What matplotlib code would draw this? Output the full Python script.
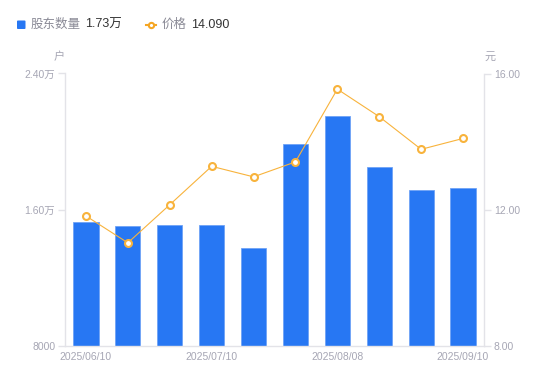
import matplotlib
matplotlib.use("Agg")
import matplotlib.pyplot as plt
from matplotlib.patches import FancyBboxPatch
from matplotlib.lines import Line2D
import numpy as np

plt.rcParams['font.family'] = ['Liberation Sans', 'Noto Sans CJK SC', 'DejaVu Sans']

dates = ["2025/06/10", "2025/06/20", "2025/06/30", "2025/07/10", "2025/07/20",
         "2025/07/31", "2025/08/08", "2025/08/20", "2025/08/31", "2025/09/10"]
shareholders = [15280, 15030, 15090, 15090, 13735, 19850, 21500, 18480, 17150, 17280]
price = [11.81, 11.02, 12.14, 13.27, 12.96, 13.40, 15.54, 14.73, 13.77, 14.09]
left_ticks = [8000, 16000, 24000]
left_tick_labels = ["8000", "1.60万", "2.40万"]
right_ticks = [8.0, 12.0, 16.0]
right_tick_labels = ["8.00", "12.00", "16.00"]
shown_labels = [0, 3, 6, 9]

W, H = 550, 381
fig = plt.figure(figsize=(W / 100, H / 100), dpi=100)
ax = fig.add_axes([65 / W, (H - 345.5) / H, (484 - 65) / W, 272 / H])

bar_color = "#2777F3"
line_color = "#F8B33C"
axis_color = "#E3E3E8"
tick_text = "#A6A6B4"

x = np.arange(len(dates))
ax.bar(x, shareholders, width=0.6, color=bar_color, edgecolor="#6FA3F6", linewidth=0.6, zorder=2)
ax.set_xlim(-0.5, len(dates) - 0.5)
ax.set_ylim(8000, 24000)
ax.set_yticks(left_ticks)
ax.set_yticklabels(left_tick_labels)
ax.set_xticks([x[i] for i in shown_labels])
ax.set_xticklabels([dates[i] for i in shown_labels])

ax2 = ax.twinx()
ax2.plot(x, price, color=line_color, linewidth=0.8, marker="o", markersize=5,
         markerfacecolor="white", markeredgecolor=line_color, markeredgewidth=1.5, zorder=3)
ax2.set_ylim(8, 16)
ax2.set_yticks(right_ticks)
ax2.set_yticklabels(right_tick_labels)

for a in (ax, ax2):
    for s in a.spines.values():
        s.set_visible(False)
    a.set_facecolor("none")

ax.spines['left'].set_visible(True)
ax.spines['left'].set_color(axis_color)
ax.spines['bottom'].set_visible(True)
ax.spines['bottom'].set_color(axis_color)
ax2.spines['right'].set_visible(True)
ax2.spines['right'].set_color(axis_color)
for s in ('left', 'bottom'):
    ax.spines[s].set_linewidth(1.0)
ax2.spines['right'].set_linewidth(1.0)

ax.tick_params(axis='y', colors=axis_color, labelcolor=tick_text, labelsize=7.5, length=5, width=1, pad=2)
ax.tick_params(axis='x', length=0, labelcolor=tick_text, labelsize=7.5, pad=5)
ax2.tick_params(axis='y', colors=axis_color, labelcolor=tick_text, labelsize=7.5, length=5, width=1, pad=2)

fig.text(59 / W, 1 - 57 / H, "户", color=tick_text, fontsize=8, ha='center', va='center')
fig.text(490 / W, 1 - 57 / H, "元", color=tick_text, fontsize=8, ha='center', va='center')

# legend
ly = 1 - 24.8 / H
sq = FancyBboxPatch((17 / W, 1 - 29 / H), 8.5 / W, 8.5 / H, boxstyle="round,pad=0,rounding_size=0.002",
                    transform=fig.transFigure, facecolor=bar_color, edgecolor="none")
fig.patches.append(sq)
fig.text(31 / W, ly, "股东数量", color="#8A8A96", fontsize=9, va='center', ha='left')
fig.text(85.5 / W, ly, f"{shareholders[-1] / 10000:.2f}万", color="#333333", fontsize=9, va='center', ha='left')
fig.lines.append(Line2D([145.5 / W, 156 / W], [ly, ly], transform=fig.transFigure, color="#F5A623",
                        linewidth=1.5))
fig.lines.append(Line2D([150.8 / W], [ly], transform=fig.transFigure, marker="o", markersize=3.8,
                        markerfacecolor="white", markeredgecolor="#F5A623", markeredgewidth=1.5))
fig.text(161.5 / W, ly, "价格", color="#8A8A96", fontsize=9, va='center', ha='left')
fig.text(191.5 / W, ly, f"{price[-1]:.3f}", color="#333333", fontsize=9, va='center', ha='left')

fig.savefig("out.png", dpi=100, facecolor="white")
